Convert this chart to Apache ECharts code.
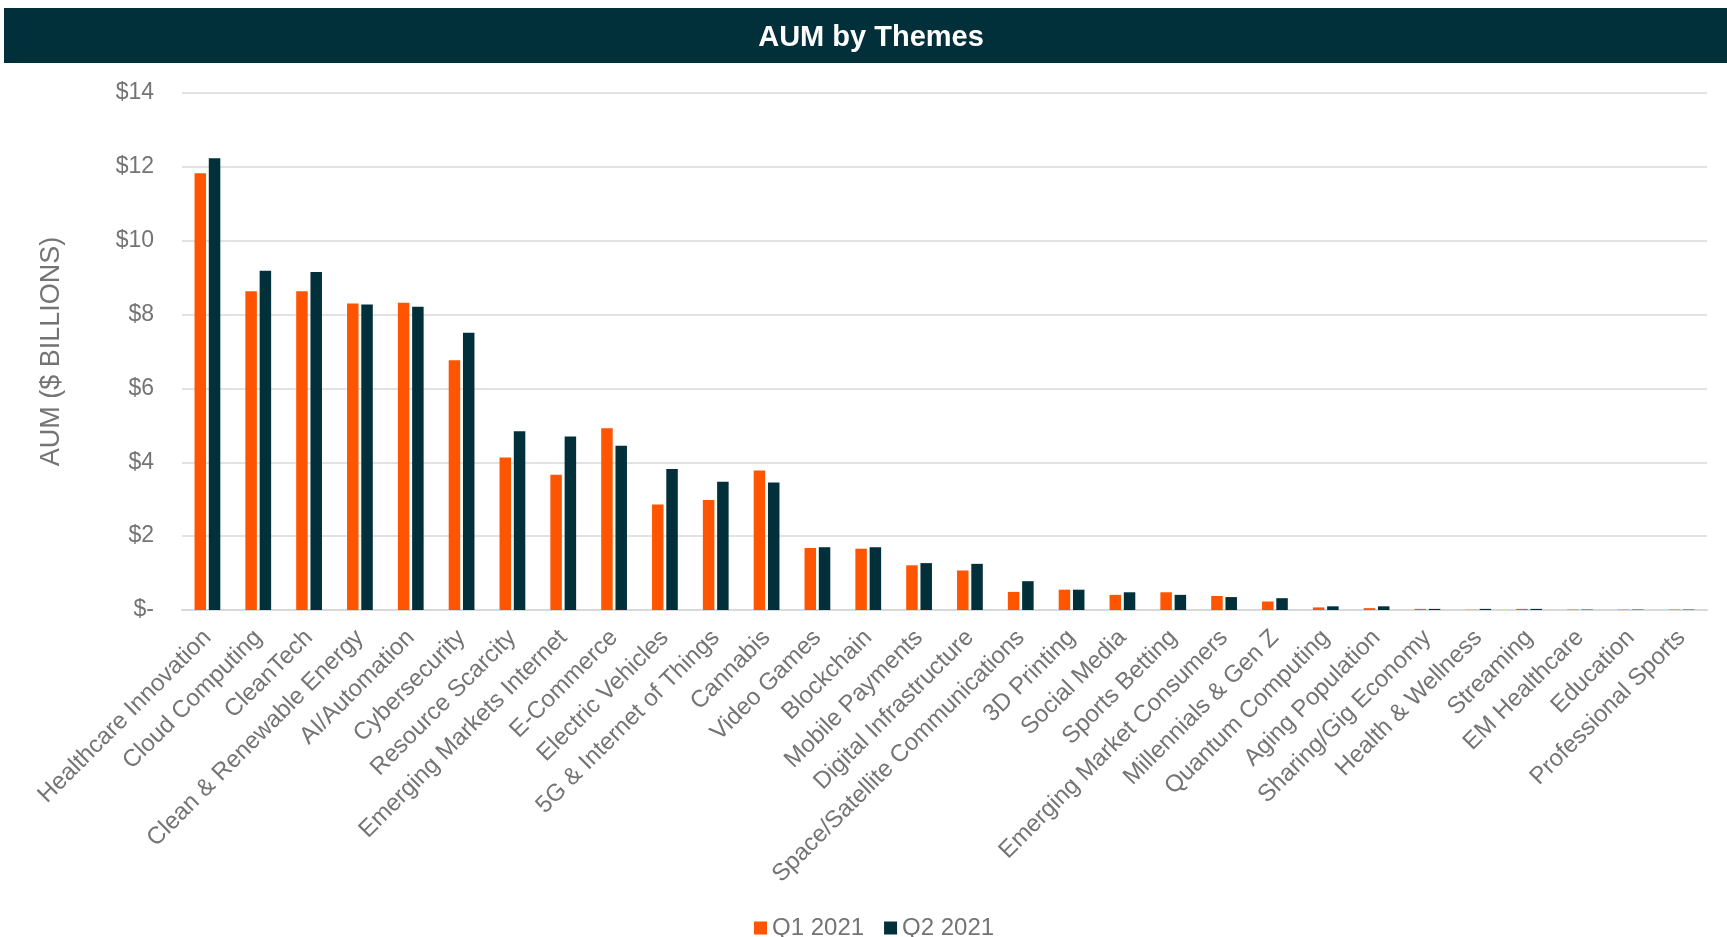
<!DOCTYPE html>
<html>
<head>
<meta charset="utf-8">
<script src="https://cdn.jsdelivr.net/npm/echarts@6/dist/echarts.min.js"></script>
<style>
html,body{margin:0;padding:0;background:#fff;}
#chart{width:1727px;height:937px;}
</style>
</head>
<body>
<div id="chart"></div>
<script>
const categories = ["Healthcare Innovation","Cloud Computing","CleanTech","Clean & Renewable Energy","AI/Automation","Cybersecurity","Resource Scarcity","Emerging Markets Internet","E-Commerce","Electric Vehicles","5G & Internet of Things","Cannabis","Video Games","Blockchain","Mobile Payments","Digital Infrastructure","Space/Satellite Communications","3D Printing","Social Media","Sports Betting","Emerging Market Consumers","Millennials & Gen Z","Quantum Computing","Aging Population","Sharing/Gig Economy","Health & Wellness","Streaming","EM Healthcare","Education","Professional Sports"];
const q1_2021 = [11.83, 8.63, 8.63, 8.30, 8.32, 6.76, 4.13, 3.66, 4.92, 2.86, 2.98, 3.78, 1.68, 1.66, 1.21, 1.07, 0.49, 0.55, 0.41, 0.48, 0.38, 0.23, 0.07, 0.05, 0.03, 0.005, 0.03, 0.01, 0.01, 0.01];
const q2_2021 = [12.23, 9.19, 9.15, 8.27, 8.21, 7.51, 4.84, 4.70, 4.45, 3.82, 3.47, 3.45, 1.70, 1.70, 1.27, 1.25, 0.78, 0.55, 0.48, 0.41, 0.35, 0.32, 0.10, 0.10, 0.03, 0.03, 0.03, 0.01, 0.01, 0.01];
const seriesNames = ["Q1 2021", "Q2 2021"];
const yTickValues = [0, 2, 4, 6, 8, 10, 12, 14];
const yTickLabels = ["$-", "$2", "$4", "$6", "$8", "$10", "$12", "$14"];

const FONT = "Liberation Sans, Arial, sans-serif";
const GREY = "#747474";
const chart = echarts.init(document.getElementById('chart'));
chart.setOption({
  animation: false,
  textStyle: { fontFamily: FONT },
  graphic: [{
    type: 'rect', silent: true, z: -1,
    shape: { x: 4, y: 8, width: 1723, height: 55 },
    style: { fill: '#02303A' }
  }],
  title: {
    text: 'AUM by Themes',
    left: 866, top: 33, textAlign: 'center', textVerticalAlign: 'middle',
    textStyle: { color: '#ffffff', fontSize: 29, fontWeight: 'bold', fontFamily: FONT }
  },
  legend: {
    data: seriesNames,
    left: 749, top: 911,
    itemWidth: 13, itemHeight: 13, itemGap: 20,
    icon: 'rect',
    textStyle: { color: GREY, fontSize: 24, fontFamily: FONT }
  },
  grid: { left: 182, right: 20, top: 93, bottom: 327, containLabel: false },
  xAxis: {
    type: 'category',
    data: categories,
    axisLine: { show: true, lineStyle: { color: '#D9D9D9', width: 2 } },
    axisTick: { show: false },
    axisLabel: {
      interval: 0, rotate: 45, margin: 24,
      color: GREY, fontSize: 24, fontFamily: FONT
    }
  },
  yAxis: {
    type: 'value',
    min: 0, max: 14, interval: 2,
    name: 'AUM ($ BILLIONS)',
    nameLocation: 'middle', nameGap: 117, nameRotate: 90,
    nameTextStyle: { color: GREY, fontSize: 27, fontFamily: FONT },
    axisLine: { show: false },
    axisTick: { show: false },
    splitLine: { lineStyle: { color: '#D9D9D9', width: 1.5 } },
    axisLabel: {
      margin: 28, color: GREY, fontSize: 23, fontFamily: FONT,
      formatter: function (v) {
        const i = yTickValues.indexOf(v);
        return i >= 0 ? yTickLabels[i] : '';
      }
    }
  },
  series: [
    { name: seriesNames[0], type: 'bar', data: q1_2021, barWidth: 11.5, barGap: '24%',
      itemStyle: { color: '#FF5500' } },
    { name: seriesNames[1], type: 'bar', data: q2_2021, barWidth: 11.5, barGap: '24%',
      itemStyle: { color: '#02303A' } }
  ]
});
</script>
</body>
</html>
